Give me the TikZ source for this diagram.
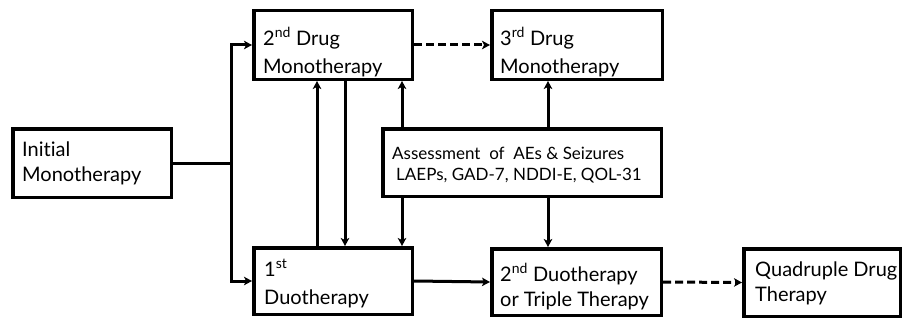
\documentclass[tikz,border=0pt]{standalone}
\usepackage{fontspec}
\setmainfont[Ligatures={NoCommon}]{Lato}
\usetikzlibrary{arrows.meta}
\begin{document}
\begin{tikzpicture}[x=1pt,y=-1pt,
  box/.style={draw=black,line width=3.5pt,fill=white,rectangle,inner sep=0pt},
  txt/.style={inner sep=0pt,anchor=north west,align=left,font=\fontsize{20}{25}\selectfont},
  txtsup/.style={txt,font=\fontsize{20}{28}\selectfont},
  arr/.style={line width=3pt,-{Stealth[length=8pt,width=8.5pt,inset=2pt]}},
  dsh/.style={arr,dash pattern=on 8pt off 4pt}]
\useasboundingbox (0,0) rectangle (904,321);
% frames
\node[box,minimum width=158.5pt,minimum height=68.5pt] (init) at (92,163) {};
\node[box,minimum width=158.5pt,minimum height=68.5pt] (drug2) at (333,45) {};
\node[box,minimum width=170.5pt,minimum height=68.5pt] (drug3) at (577,45) {};
\node[box,minimum width=278.5pt,minimum height=67.5pt] (assess) at (522,162.5) {};
\node[box,minimum width=158.5pt,minimum height=66.5pt] (duo1) at (333,281) {};
\node[box,minimum width=169.5pt,minimum height=66.5pt] (duo2) at (576.5,282) {};
\node[box,minimum width=156.5pt,minimum height=67.5pt] (quad) at (822,282.5) {};
% texts
\node[txt] (init-t) at (22,142) {Initial\\Monotherapy};
\node[txtsup] (drug2-t) at (263,27) {2\textsuperscript{nd} Drug\\Monotherapy};
\node[txtsup] (drug3-t) at (500,27) {3\textsuperscript{rd} Drug\\Monotherapy};
\node[txt,font=\fontsize{17}{21}\selectfont] (assess-t) at (392,147) {Assessment\ \ of\ \ AEs \& Seizures\\\hspace*{4pt}LAEPs, GAD-7, NDDI-E, QOL-31};
\node[txtsup] (duo1-t) at (264,259) {1\textsuperscript{st}\\Duotherapy};
\node[txt] (duo2-t) at (500,263) {2\textsuperscript{nd} Duotherapy\\or Triple Therapy};
\node[txt] (quad-t) at (755,262) {Quadruple Drug\\Therapy};
% connectors
\coordinate (j) at (231,163);
\coordinate (c317) at (317,0);
\coordinate (c345) at (345,0);
\coordinate (c402) at (402,0);
\coordinate (c548) at (548,0);
\draw[line width=3pt] (init.east) -- (j);
\draw[arr] (j) |- (drug2.west);
\draw[arr] (j) |- (duo1.west);
\draw[arr] (duo1.north -| c317) -- (drug2.south -| c317);
\draw[arr] (drug2.south -| c345) -- (duo1.north -| c345);
\draw[arr] (assess.north -| c402) -- (drug2.south -| c402);
\draw[arr] (assess.south -| c402) -- (duo1.north -| c402);
\draw[arr] (assess.north -| c548) -- (drug3.south -| c548);
\draw[arr] (assess.south -| c548) -- (duo2.north -| c548);
\draw[arr] (duo1.east) -- (duo2.west);
\draw[dsh] (drug2.east) -- (drug3.west);
\draw[dsh] (duo2.east) -- (quad.west);
\end{tikzpicture}
\end{document}
